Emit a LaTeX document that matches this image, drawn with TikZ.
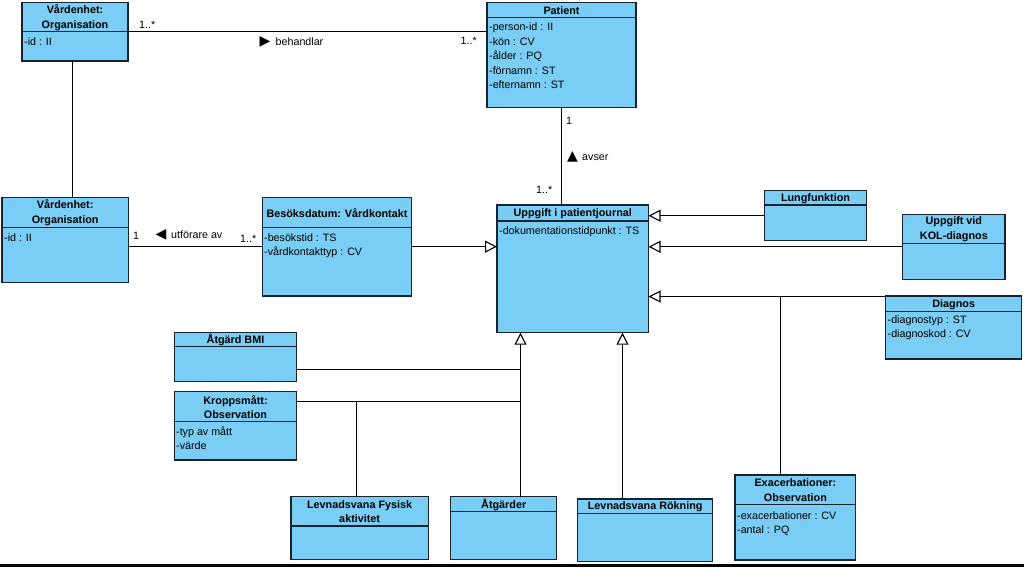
\documentclass[tikz,border=0pt]{standalone}
\usepackage{fontspec}
\setmainfont{Liberation Sans}
\newfontfamily\symf{DejaVu Sans}
\usetikzlibrary{arrows.meta}
\definecolor{clsfill}{RGB}{122,205,244}
\definecolor{clsdraw}{RGB}{25,35,48}
\tikzset{
  cls/.style={draw=clsdraw, fill=clsfill, line width=1.3pt, inner sep=0pt, outer sep=0pt},
  clsline/.style={draw=clsdraw, line width=1.2pt},
  ttl/.style={font=\fontsize{10.8}{14.3}\selectfont\bfseries, align=center, inner sep=0pt},
  attr/.style={font=\fontsize{10.7}{14.6}\selectfont, inner sep=0pt, anchor=base west},
  lbl/.style={font=\fontsize{10.7}{13}\selectfont, inner sep=0pt, anchor=base west},
  tri/.style={font=\symf\fontsize{14}{14}\selectfont, inner sep=0pt, anchor=center},
  conn/.style={draw=black, line width=1.1pt},
  gen/.style={conn, -{Triangle[open, length=12pt, width=12pt, fill=white]}},
}
\newcommand{\uclass}[7]{%
  \node[cls, anchor=north west, minimum width={(#4-#2)*1pt}, minimum height={(#5-#3)*1pt}] (#1) at (#2,#3) {};
  \draw[clsline] (#2,#6) -- (#4,#6);
  \node[ttl] (#1-t) at ({(#2+#4)/2},{(#3+#6)/2+0.5}) {#7};
}
\newcommand{\uattrs}[4]{%
  \foreach \atx [count=\i] in {#4} {\node[attr] (#1-a\i) at (#2,{#3+(\i-1)*14.6}) {\atx};}
}
\begin{document}
\begin{tikzpicture}[x=1pt,y=-1pt]
\useasboundingbox (0,0) rectangle (1024,567);
\fill[white] (0,0) rectangle (1024,567);

% classes
\uclass{v1}{22}{2.7}{128}{61}{31.7}{Vårdenhet:\\Organisation}
\uattrs{v1}{24}{46}{-id : II}
\uclass{pat}{487}{2.7}{636}{107.3}{17.3}{Patient}
\uattrs{pat}{489}{30.6}{-person-id : II, -kön : CV, -ålder : PQ, -förnamn : ST, -efternamn : ST}
\uclass{v2}{2}{197.3}{128.3}{282.7}{227.3}{Vårdenhet:\\Organisation}
\uattrs{v2}{4}{241}{-id : II}
\uclass{bes}{262.3}{197.3}{411.7}{296}{227.3}{Besöksdatum: Vårdkontakt}
\uattrs{bes}{264}{241}{-besökstid : TS, -vårdkontakttyp : CV}
\uclass{upp}{497}{205}{648.5}{332.7}{221}{Uppgift i patientjournal}
\uattrs{upp}{499}{234.5}{-dokumentationstidpunkt : TS}
\uclass{lung}{764.3}{190.7}{866.7}{240.7}{205}{Lungfunktion}
\uclass{kol}{902.7}{214.3}{1005}{279.3}{243.3}{Uppgift vid\\KOL-diagnos}
\uclass{diag}{885.7}{296}{1021.7}{359}{311.7}{Diagnos}
\uattrs{diag}{887.5}{323}{-diagnostyp : ST, -diagnoskod : CV}
\uclass{bmi}{174.3}{332.3}{296.7}{381.7}{346.7}{Åtgärd BMI}
\uclass{kropp}{174.3}{391.7}{296.7}{460}{421.7}{Kroppsmått:\\Observation}
\uattrs{kropp}{176}{435}{-typ av mått, -värde}
\uclass{lf}{291}{496.7}{428.3}{559.3}{526}{Levnadsvana Fysisk\\aktivitet}
\uclass{atg}{450.7}{496.7}{556.7}{559.3}{511.7}{Åtgärder}
\uclass{rok}{577.7}{499}{712.7}{561.3}{513.3}{Levnadsvana Rökning}
\uclass{exa}{735}{475}{855.7}{560}{504.3}{Exacerbationer:\\Observation}
\uattrs{exa}{737}{519}{-exacerbationer : CV, -antal : PQ}

% helper coordinates
\coordinate (vx) at (72.5,0);
\coordinate (ex) at (780.5,0);
\coordinate (b1) at (520.5,0);
\coordinate (b2) at (622.5,0);
\coordinate (k1) at (356.5,0);
\coordinate (bmiy) at (0,369.5);
\coordinate (kry) at (0,401.5);
\coordinate (dy) at (0,296.5);

% connectors
\draw[conn] (v1.south -| vx) -- (v2.north -| vx);
\draw[conn] (v1.east) -- (v1.east -| pat.west);
\draw[conn] (pat.south) -- (pat.south |- upp.north);
\draw[conn] (bes.west) -- (bes.west -| v2.east);
\draw[gen] (bes.east) -- (bes.east -| upp.west);
\draw[gen] (lung.west) -- (lung.west -| upp.east);
\draw[gen] (kol.west) -- (kol.west -| upp.east);
\draw[gen] (diag.west |- dy) -- (upp.east |- dy);
\draw[conn] (exa.north -| ex) -- (ex |- dy);
\draw[gen] (atg.north -| b1) -- (upp.south -| b1);
\draw[gen] (rok.north -| b2) -- (upp.south -| b2);
\draw[conn] (bmi.east |- bmiy) -- (b1 |- bmiy);
\draw[conn] (kropp.east |- kry) -- (b1 |- kry);
\draw[conn] (lf.north -| k1) -- (k1 |- kry);

% labels
\node[lbl] (m1) at (139,28.8) {1..*};
\node[lbl] (m2) at (460.5,45) {1..*};
\node[tri] (t1) at (265,41.7) {▶};
\node[lbl] (l1) at (275.5,45.6) {behandlar};
\node[lbl] (m3) at (133,239) {1};
\node[tri] (t2) at (161,235) {◀};
\node[lbl] (l2) at (171,238.9) {utförare av};
\node[lbl] (m4) at (240,242) {1..*};
\node[lbl] (m5) at (566,124.6) {1};
\node[tri] (t3) at (572.5,156.7) {▲};
\node[lbl] (l3) at (582,160) {avser};
\node[lbl] (m6) at (536,193) {1..*};

% bottom bar
\fill[black] (0,564) rectangle (1024,567);
\end{tikzpicture}
\end{document}
